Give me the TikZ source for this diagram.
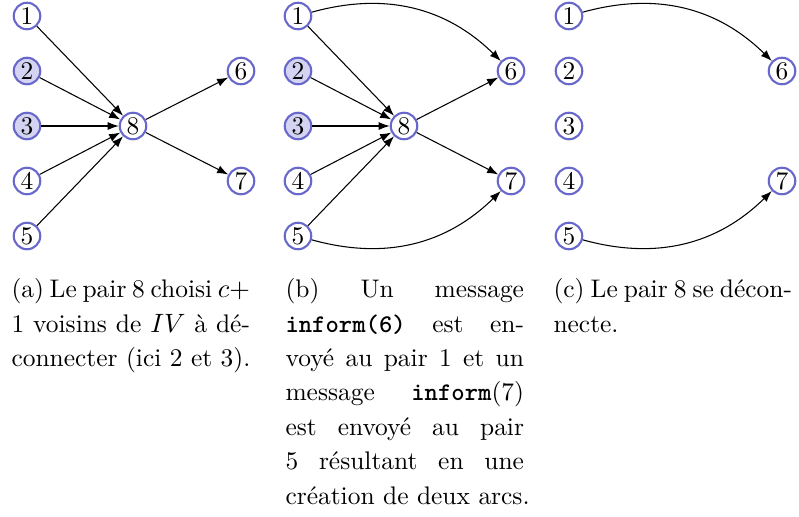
\documentclass[tikz,border=0pt]{standalone}
\usetikzlibrary{arrows.meta}
\definecolor{nodeline}{RGB}{104,104,204}
\definecolor{nodefill}{RGB}{212,212,242}
\tikzset{
  peer/.style={circle,draw=nodeline,line width=0.8pt,fill=white,minimum size=10pt,inner sep=0pt,font=\fontsize{9.6}{11.5}\selectfont},
  sel/.style={peer,fill=nodefill},
  arc/.style={-{Latex[length=4.2pt,width=3.1pt]},line width=0.4pt,black},
  capt/.style={anchor=north west,inner sep=0pt,align=left,font=\fontsize{9.6}{13}\selectfont}
}
\newcommand{\jline}[1]{\makebox[90pt][s]{#1}}
\begin{document}
\begin{tikzpicture}[x=0.3774pt,y=-0.3774pt]
\useasboundingbox (0,0) rectangle (799,516);
% panel (a)
\node[peer] (a1) at (27,16) {1};
\node[sel]  (a2) at (27,71) {2};
\node[sel]  (a3) at (27,126) {3};
\node[peer] (a4) at (27,181) {4};
\node[peer] (a5) at (27,236) {5};
\node[peer] (a8) at (133,126) {8};
\node[peer] (a6) at (241,71) {6};
\node[peer] (a7) at (241,181) {7};
\foreach \i in {1,...,5} \draw[arc] (a\i) -- (a8);
\draw[arc] (a8) -- (a6);
\draw[arc] (a8) -- (a7);
% panel (b)
\node[peer] (b1) at (298,16) {1};
\node[sel]  (b2) at (298,71) {2};
\node[sel]  (b3) at (298,126) {3};
\node[peer] (b4) at (298,181) {4};
\node[peer] (b5) at (298,236) {5};
\node[peer] (b8) at (404,126) {8};
\node[peer] (b6) at (511,71) {6};
\node[peer] (b7) at (511,181) {7};
\foreach \i in {1,...,5} \draw[arc] (b\i) -- (b8);
\draw[arc] (b8) -- (b6);
\draw[arc] (b8) -- (b7);
\draw[arc] (b1) to[bend left=30] (b6);
\draw[arc] (b5) to[bend right=30] (b7);
% panel (c)
\node[peer] (c1) at (569,16) {1};
\node[peer] (c2) at (569,71) {2};
\node[peer] (c3) at (569,126) {3};
\node[peer] (c4) at (569,181) {4};
\node[peer] (c5) at (569,236) {5};
\node[peer] (c6) at (782,71) {6};
\node[peer] (c7) at (782,181) {7};
\draw[arc] (c1) to[bend left=30] (c6);
\draw[arc] (c5) to[bend right=30] (c7);
% captions
\node[capt] (capa) at (11,278) {\jline{(a) Le pair 8 choisi $c+$}\\\jline{1 voisins de $IV$ à dé-}\\connecter (ici 2 et 3).};
\node[capt] (capb) at (285,278) {\jline{(b) Un message}\\\jline{\texttt{\textbf{inform(6)}} est en-}\\\jline{voyé au pair 1 et un}\\\jline{message \texttt{\textbf{inform}}(7)}\\\jline{est envoyé au pair}\\\jline{5 résultant en une}\\création de deux arcs.};
\node[capt] (capc) at (553,278) {\jline{(c) Le pair 8 se décon-}\\necte.};
\end{tikzpicture}
\end{document}
